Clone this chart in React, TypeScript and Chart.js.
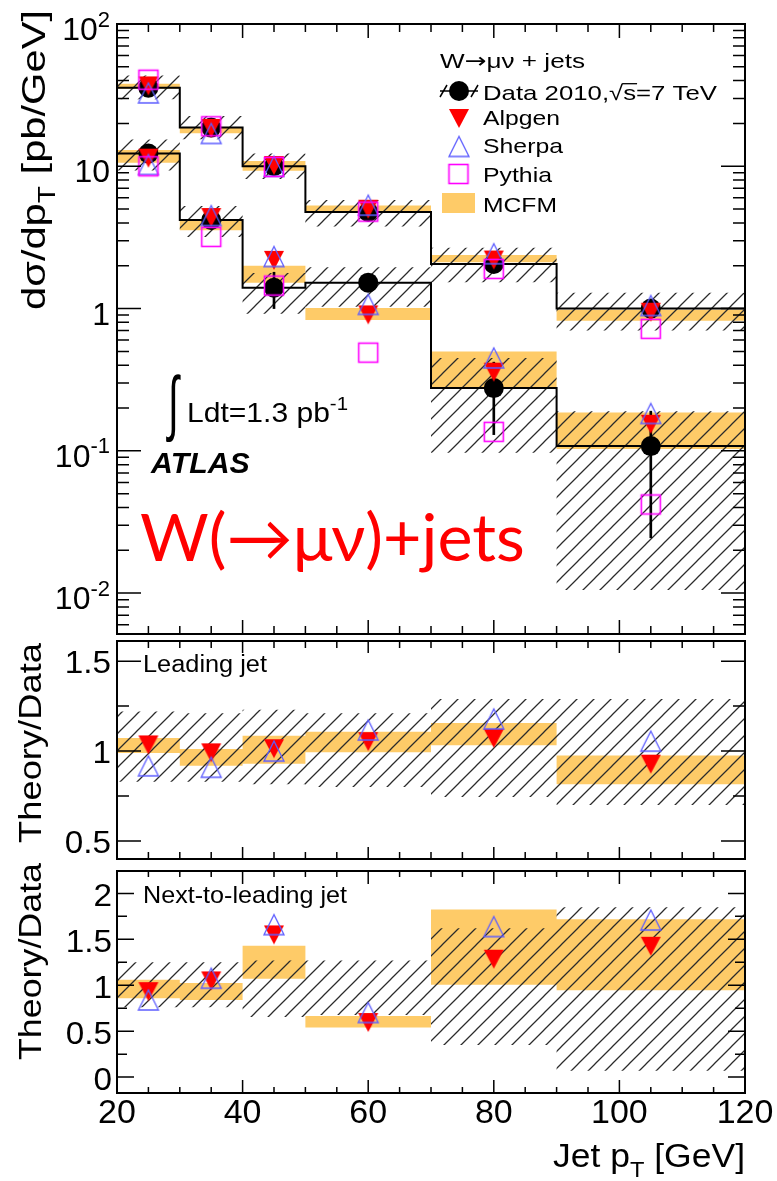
import React, { useEffect, useRef } from "react";
import { Chart, registerables } from "chart.js";

Chart.register(...registerables);

// ---------------- data ----------------
const binEdges = [20, 30, 40, 50, 70, 90, 120];
const binCenters = [25, 35, 45, 60, 80, 105];

// leading jet, dσ/dpT [pb/GeV]
const leadData = [35.7, 18.7, 10.0, 4.77, 2.06, 1.0];
const leadDataErrLow = [34.8, 18.2, 9.7, 4.6, 1.96, 0.9];
const leadDataErrHigh = [36.6, 19.2, 10.3, 4.95, 2.16, 1.1];
const leadAlpgen = [37.0, 18.6, 10.2, 5.03, 2.21, 0.95];
const leadSherpa = [32.8, 17.0, 10.0, 5.33, 2.43, 1.05];
const leadPythia = [40.6, 19.1, 9.9, 4.8, 1.9, 0.72];
const leadMcfmLow = [35.0, 17.1, 9.3, 4.74, 2.12, 0.82];
const leadMcfmHigh = [38.0, 18.9, 10.9, 5.3, 2.38, 0.98];
const leadSystLow = [29.6, 15.5, 8.15, 3.77, 1.53, 0.7];
const leadSystHigh = [43.5, 22.6, 12.3, 5.8, 2.67, 1.29];

// next-to-leading jet
const secData = [12.3, 4.19, 1.4, 1.52, 0.276, 0.108];
const secDataErrLow = [11.9, 3.9, 1.0, 1.36, 0.13, 0.0245];
const secDataErrHigh = [12.7, 4.5, 1.8, 1.68, 0.42, 0.19];
const secAlpgen = [11.5, 4.4, 2.2, 0.91, 0.36, 0.155];
const secSherpa = [10.3, 4.5, 2.32, 1.07, 0.45, 0.183];
const secPythia = [10.0, 3.19, 1.45, 0.49, 0.136, 0.042];
const secMcfmLow = [10.6, 3.55, 1.52, 0.83, 0.278, 0.103];
const secMcfmHigh = [13.0, 4.25, 2.0, 1.01, 0.5, 0.186];
const secSystLow = [9.35, 3.18, 0.92, 1.03, 0.097, 0.0105];
const secSystHigh = [15.4, 5.25, 1.78, 1.95, 0.45, 0.19];

// Theory/Data, leading jet
const leadRatioAlpgen = [1.037, 0.993, 1.016, 1.055, 1.073, 0.93];
const leadRatioSherpa = [0.918, 0.91, 1.0, 1.117, 1.179, 1.055];
const leadRatioMcfmLow = [0.99, 0.918, 0.93, 0.993, 1.032, 0.815];
const leadRatioMcfmHigh = [1.073, 1.011, 1.085, 1.108, 1.156, 0.975];
const leadRatioSystLow = [0.83, 0.83, 0.815, 0.8, 0.745, 0.7];
const leadRatioSystHigh = [1.22, 1.21, 1.23, 1.21, 1.29, 1.29];

// Theory/Data, next-to-leading jet
const secRatioAlpgen = [0.936, 1.053, 1.554, 0.6, 1.289, 1.43];
const secRatioSherpa = [0.84, 1.077, 1.66, 0.703, 1.639, 1.71];
const secRatioMcfmLow = [0.858, 0.84, 1.07, 0.54, 1.006, 0.947];
const secRatioMcfmHigh = [1.06, 1.024, 1.43, 0.664, 1.826, 1.72];
const secRatioSystLow = [0.76, 0.76, 0.654, 0.675, 0.35, 0.07];
const secRatioSystHigh = [1.25, 1.25, 1.27, 1.27, 1.62, 1.85];

// ticks
const xMajorTicks = [20, 40, 60, 80, 100, 120];
const xMinorTicks = [25, 30, 35, 45, 50, 55, 65, 70, 75, 85, 90, 95, 105, 110, 115];
const xTickLabels = ["20", "40", "60", "80", "100", "120"];
const topYMajorTicks = [100, 10, 1, 0.1, 0.01];
const topYTickBase = ["10", "10", "1", "10", "10"];
const topYTickExp = ["2", "", "", "-1", "-2"];
const topYMinorTicks = [
  0.006, 0.007, 0.008, 0.009,
  0.02, 0.03, 0.04, 0.05, 0.06, 0.07, 0.08, 0.09,
  0.2, 0.3, 0.4, 0.5, 0.6, 0.7, 0.8, 0.9,
  2, 3, 4, 5, 6, 7, 8, 9,
  20, 30, 40, 50, 60, 70, 80, 90,
];
const midYMajorTicks = [1.5, 1, 0.5];
const midYTickLabels = ["1.5", "1", "0.5"];
const midYMinorTicks = [1.25, 0.75];
const botYMajorTicks = [2, 1.5, 1, 0.5, 0];
const botYTickLabels = ["2", "1.5", "1", "0.5", "0"];
const botYMinorTicks = [1.75, 1.25, 0.75, 0.25];

const legendTitleParts = ["W", "\u2192", "\u03bc\u03bd + jets"];
const legendLabels = ["Data 2010,\u221as=7 TeV", "Alpgen", "Sherpa", "Pythia", "MCFM"];

// ---------------- styles ----------------
const FONT = '"Liberation Sans", Arial, Helvetica, sans-serif';
const ORANGE = "rgb(254,203,104)";
const RED = "#ff0000";
const BLUE = "#5d5dff";
const MAGENTA = "#ff00ff";
const HATCH_INK = "#2b2b2b";

type Run = { t: string; sup?: boolean; sub?: boolean; family?: string };

function drawRich(ctx: CanvasRenderingContext2D, runs: Run[], x: number, y: number, o: any): number {
  const fnt = (r: Run) =>
    [o.style, o.weight, `${r.sup || r.sub ? Math.round(o.size * 0.68) : o.size}px`, r.family || o.family || FONT]
      .filter(Boolean)
      .join(" ");
  ctx.save();
  const ws = runs.map((r) => {
    ctx.font = fnt(r);
    return ctx.measureText(r.t).width;
  });
  const total = ws.reduce((a, b) => a + b, 0);
  const sx = o.width ? o.width / total : o.sx || 1;
  ctx.translate(x, y);
  if (o.rot) ctx.rotate(o.rot);
  ctx.scale(sx, 1);
  let cx = o.align === "right" ? -total : o.align === "center" ? -total / 2 : 0;
  ctx.fillStyle = o.color || "#000";
  ctx.textAlign = "left";
  ctx.textBaseline = "alphabetic";
  runs.forEach((r, i) => {
    ctx.font = fnt(r);
    const dy = r.sup ? -0.42 * o.size : r.sub ? 0.3 * o.size : 0;
    ctx.fillText(r.t, cx, dy);
    cx += ws[i];
  });
  ctx.restore();
  return sx;
}

function drawFitBox(ctx: CanvasRenderingContext2D, text: string, font: string, color: string, x0: number, y0: number, x1: number, y1: number) {
  ctx.save();
  ctx.font = font;
  ctx.textAlign = "left";
  ctx.textBaseline = "alphabetic";
  const m = ctx.measureText(text);
  const w = m.actualBoundingBoxLeft + m.actualBoundingBoxRight;
  const h = m.actualBoundingBoxAscent + m.actualBoundingBoxDescent;
  ctx.translate(x0, y0);
  ctx.scale((x1 - x0) / w, (y1 - y0) / h);
  ctx.fillStyle = color;
  ctx.fillText(text, m.actualBoundingBoxLeft, m.actualBoundingBoxAscent);
  ctx.restore();
}

function makeTile(w: number, h: number, draw: (g: CanvasRenderingContext2D) => void) {
  const c = document.createElement("canvas");
  c.width = w;
  c.height = h;
  draw(c.getContext("2d")!);
  return c;
}

function makeMarkers() {
  const triDown = makeTile(22, 22, (g) => {
    g.fillStyle = RED;
    g.beginPath();
    g.moveTo(1, 2);
    g.lineTo(21, 2);
    g.lineTo(11, 21);
    g.closePath();
    g.fill();
  });
  const triUp = makeTile(24, 24, (g) => {
    g.strokeStyle = BLUE;
    g.lineWidth = 1.3;
    g.beginPath();
    g.moveTo(2, 22);
    g.lineTo(22, 22);
    g.lineTo(12, 2);
    g.closePath();
    g.stroke();
  });
  const square = makeTile(24, 24, (g) => {
    g.strokeStyle = MAGENTA;
    g.lineWidth = 1.6;
    g.strokeRect(2.5, 2.5, 19, 19);
  });
  return { triDown, triUp, square };
}

function makeHatch(ctx: CanvasRenderingContext2D): CanvasPattern {
  const s = 17;
  const tile = makeTile(s, s, (g) => {
    g.strokeStyle = HATCH_INK;
    g.lineWidth = 1.25;
    g.beginPath();
    g.moveTo(0, s);
    g.lineTo(s, 0);
    g.moveTo(-2, 2);
    g.lineTo(2, -2);
    g.moveTo(s - 2, s + 2);
    g.lineTo(s + 2, s - 2);
    g.stroke();
  });
  return ctx.createPattern(tile, "repeat")!;
}

const hist = (vals: number[]) => {
  const out: { x: number; y: number }[] = [];
  vals.forEach((v, i) => {
    out.push({ x: binEdges[i], y: v });
    out.push({ x: binEdges[i + 1], y: v });
  });
  return out;
};
const pts = (vals: number[]) => binCenters.map((x, i) => ({ x, y: vals[i] }));
const errs = (lo: number[], hi: number[]) => binCenters.map((x, i) => ({ x, y: [lo[i], hi[i]] }));

function band(lo: number[], hi: number[], fill: any, order: number) {
  return [
    { type: "line", data: hist(hi), borderColor: "transparent", borderWidth: 0, pointRadius: 0, fill: "+1", backgroundColor: fill, order },
    { type: "line", data: hist(lo), borderColor: "transparent", borderWidth: 0, pointRadius: 0, fill: false, order },
  ];
}
const histLine = (vals: number[], order: number) => ({
  type: "line", data: hist(vals), borderColor: "#000", borderWidth: 2, pointRadius: 0, fill: false, order,
});
const markers = (vals: number[], style: any, order: number) => ({
  type: "line", data: pts(vals), showLine: false, pointStyle: style, pointRadius: 10, order,
});
const dataMarkers = (vals: number[], order: number) => ({
  type: "line", data: pts(vals), showLine: false, pointStyle: "circle", pointRadius: 10,
  pointBackgroundColor: "#000", pointBorderColor: "#000", pointBorderWidth: 0, order,
});
const errBars = (lo: number[], hi: number[], order: number) => ({
  type: "bar", data: errs(lo, hi), backgroundColor: "#000", borderWidth: 0, barThickness: 2, grouped: false, order,
});

interface PanelSpec {
  top: number;
  yMajors: number[];
  yMinors: number[];
  yMaj: number;
  yMin: number;
  xMaj: number;
  xMin: number;
  decorate: (ctx: CanvasRenderingContext2D, P: (v: number) => number, X: (v: number) => number) => void;
}

function frame(chart: any, spec: PanelSpec) {
  const { ctx, chartArea: a } = chart;
  const xs = chart.scales.x;
  const ys = chart.scales.y;
  ctx.save();
  ctx.strokeStyle = "#000";
  ctx.lineWidth = 1.5;
  ctx.beginPath();
  const xt = (vals: number[], len: number) =>
    vals.forEach((v) => {
      const p = xs.getPixelForValue(v);
      ctx.moveTo(p, a.top);
      ctx.lineTo(p, a.top + len);
      ctx.moveTo(p, a.bottom);
      ctx.lineTo(p, a.bottom - len);
    });
  const yt = (vals: number[], len: number) =>
    vals.forEach((v) => {
      const p = ys.getPixelForValue(v);
      ctx.moveTo(a.left, p);
      ctx.lineTo(a.left + len, p);
      ctx.moveTo(a.right, p);
      ctx.lineTo(a.right - len, p);
    });
  xt(xMajorTicks, spec.xMaj);
  xt(xMinorTicks, spec.xMin);
  yt(spec.yMajors, spec.yMaj);
  yt(spec.yMinors, spec.yMin);
  ctx.stroke();
  ctx.lineWidth = 2;
  ctx.strokeRect(a.left, a.top, a.right - a.left, a.bottom - a.top);
  ctx.restore();
}

function buildChart(canvas: HTMLCanvasElement, spec: PanelSpec, datasets: any[], yScale: any, padding: any) {
  const plugin = {
    id: "atlasPanel",
    afterDatasetsDraw(chart: any) {
      frame(chart, spec);
    },
    afterDraw(chart: any) {
      const ctx = chart.ctx;
      ctx.save();
      ctx.translate(0, -spec.top);
      spec.decorate(
        ctx,
        (v) => chart.scales.y.getPixelForValue(v) + spec.top,
        (v) => chart.scales.x.getPixelForValue(v)
      );
      ctx.restore();
    },
  };
  return new Chart(canvas, {
    type: "line",
    data: { datasets },
    options: {
      responsive: false,
      animation: false,
      devicePixelRatio: 1,
      events: [],
      layout: { padding },
      plugins: { legend: { display: false }, tooltip: { enabled: false }, title: { display: false } },
      scales: {
        x: { type: "linear", min: 20, max: 120, display: false, offset: false },
        y: { ...yScale, display: false, beginAtZero: false },
      },
    } as any,
    plugins: [plugin],
  } as any);
}

export default function App() {
  const refA = useRef<HTMLCanvasElement>(null);
  const refB = useRef<HTMLCanvasElement>(null);
  const refC = useRef<HTMLCanvasElement>(null);

  useEffect(() => {
    const mk = makeMarkers();
    const charts: Chart[] = [];

    // ---- top panel ----
    const cA = refA.current!;
    const hatchA = makeHatch(cA.getContext("2d")!);
    const topSpec: PanelSpec = {
      top: 0, yMajors: topYMajorTicks, yMinors: topYMinorTicks, yMaj: 24, yMin: 12, xMaj: 14, xMin: 8,
      decorate: (ctx, P) => {
        topYMajorTicks.forEach((v, i) => {
          const runs: Run[] = [{ t: topYTickBase[i] }];
          if (topYTickExp[i]) runs.push({ t: topYTickExp[i], sup: true });
          drawRich(ctx, runs, 110, P(v) + 16, { size: 32, align: "right" });
        });
        drawRich(ctx, [{ t: "d\u03c3/dp" }, { t: "T", sub: true }, { t: " [pb/GeV]" }], 45, 310, {
          size: 34, rot: -Math.PI / 2, width: 300,
        });
        // legend
        drawRich(
          ctx,
          [
            { t: legendTitleParts[0] },
            { t: legendTitleParts[1], family: '"DejaVu Sans", sans-serif' },
            { t: legendTitleParts[2] },
          ],
          440, 68, { size: 21, width: 145 }
        );
        ctx.save();
        ctx.strokeStyle = "#000";
        ctx.lineWidth = 1.5;
        ctx.beginPath();
        ctx.moveTo(440, 91); ctx.lineTo(478, 91);
        ctx.moveTo(440, 97); ctx.lineTo(447, 85);
        ctx.moveTo(471, 97); ctx.lineTo(478, 85);
        ctx.stroke();
        ctx.fillStyle = "#000";
        ctx.beginPath();
        ctx.arc(459, 91, 10, 0, Math.PI * 2);
        ctx.fill();
        ctx.restore();
        const sx = drawRich(ctx, [{ t: legendLabels[0] }], 483, 100, { size: 21, width: 234 });
        ctx.save();
        ctx.font = `21px ${FONT}`;
        const a0 = 483 + ctx.measureText("Data 2010,\u221a").width * sx;
        const a1 = 483 + ctx.measureText("Data 2010,\u221as").width * sx;
        const topY = 100 - ctx.measureText("\u221a").actualBoundingBoxAscent + 0.7;
        ctx.strokeStyle = "#000";
        ctx.lineWidth = 1.3;
        ctx.beginPath();
        ctx.moveTo(a0 - 1, topY);
        ctx.lineTo(a1 + 1, topY);
        ctx.stroke();
        ctx.restore();
        ctx.drawImage(mk.triDown, 459 - 11, 118 - 11);
        drawRich(ctx, [{ t: legendLabels[1] }], 483, 125, { size: 21, width: 77 });
        ctx.drawImage(mk.triUp, 459 - 12, 146.5 - 12);
        drawRich(ctx, [{ t: legendLabels[2] }], 483, 153, { size: 21, width: 80 });
        ctx.drawImage(mk.square, 458.5 - 12, 174 - 12);
        drawRich(ctx, [{ t: legendLabels[3] }], 483, 182, { size: 21, width: 69 });
        ctx.fillStyle = ORANGE;
        ctx.fillRect(442, 193, 33, 20);
        drawRich(ctx, [{ t: legendLabels[4] }], 483, 212, { size: 21, width: 74 });
        // annotations
        drawFitBox(ctx, "\u222b", `60px ${FONT}`, "#000", 166, 373, 181, 442);
        drawRich(ctx, [{ t: "Ldt=1.3 pb" }, { t: "-1", sup: true }], 187, 422, { size: 28, width: 161 });
        drawFitBox(ctx, "ATLAS", `italic bold 28px ${FONT}`, "#000", 150, 453, 250, 473);
        drawFitBox(ctx, "W(\u2192\u03bc\u03bd)+jets", `64px Lato, "Noto Sans", "DejaVu Sans", sans-serif`, RED, 140, 510, 523, 573);
      },
    };
    charts.push(
      buildChart(
        cA,
        topSpec,
        [
          ...band(leadMcfmLow, leadMcfmHigh, ORANGE, 20),
          ...band(secMcfmLow, secMcfmHigh, ORANGE, 20),
          ...band(leadSystLow, leadSystHigh, hatchA, 15),
          ...band(secSystLow, secSystHigh, hatchA, 15),
          histLine(leadData, 10),
          histLine(secData, 10),
          errBars(leadDataErrLow, leadDataErrHigh, 8),
          errBars(secDataErrLow, secDataErrHigh, 8),
          dataMarkers(leadData, 6),
          dataMarkers(secData, 6),
          markers(leadAlpgen, mk.triDown, 5),
          markers(secAlpgen, mk.triDown, 5),
          markers(leadSherpa, mk.triUp, 4),
          markers(secSherpa, mk.triUp, 4),
          markers(leadPythia, mk.square, 3),
          markers(secPythia, mk.square, 3),
        ],
        { type: "logarithmic", min: 0.00516, max: 100 },
        { left: 117, right: 32, top: 24, bottom: 8 }
      )
    );

    // ---- middle panel ----
    const cB = refB.current!;
    const hatchB = makeHatch(cB.getContext("2d")!);
    const midSpec: PanelSpec = {
      top: 630, yMajors: midYMajorTicks, yMinors: midYMinorTicks, yMaj: 24, yMin: 12, xMaj: 12, xMin: 7,
      decorate: (ctx, P) => {
        midYMajorTicks.forEach((v, i) => drawRich(ctx, [{ t: midYTickLabels[i] }], 111, P(v) + 12, { size: 32, align: "right", sx: 1.04 }));
        drawRich(ctx, [{ t: "Theory/Data" }], 41, 843, { size: 32, rot: -Math.PI / 2, width: 200 });
        drawRich(ctx, [{ t: "Leading jet" }], 143, 672, { size: 23, width: 124 });
      },
    };
    charts.push(
      buildChart(
        cB,
        midSpec,
        [
          ...band(leadRatioMcfmLow, leadRatioMcfmHigh, ORANGE, 20),
          ...band(leadRatioSystLow, leadRatioSystHigh, hatchB, 15),
          markers(leadRatioAlpgen, mk.triDown, 5),
          markers(leadRatioSherpa, mk.triUp, 4),
        ],
        { type: "linear", min: 0.4, max: 1.612 },
        { left: 117, right: 32, top: 7, bottom: 5 }
      )
    );

    // ---- bottom panel ----
    const cC = refC.current!;
    const hatchC = makeHatch(cC.getContext("2d")!);
    const botSpec: PanelSpec = {
      top: 860, yMajors: botYMajorTicks, yMinors: botYMinorTicks, yMaj: 17, yMin: 10, xMaj: 13, xMin: 6,
      decorate: (ctx, P, X) => {
        botYMajorTicks.forEach((v, i) => drawRich(ctx, [{ t: botYTickLabels[i] }], 112, P(v) + 13, { size: 32, align: "right", sx: 1.04 }));
        xMajorTicks.forEach((v, i) => drawRich(ctx, [{ t: xTickLabels[i] }], X(v), 1123, { size: 33, align: "center", sx: 1.03 }));
        drawRich(ctx, [{ t: "Jet p" }, { t: "T", sub: true }, { t: " [GeV]" }], 745, 1167, { size: 33, width: 192, align: "right" });
        drawRich(ctx, [{ t: "Theory/Data" }], 41, 1060, { size: 32, rot: -Math.PI / 2, width: 197 });
        drawRich(ctx, [{ t: "Next-to-leading jet" }], 143, 903, { size: 24, width: 204 });
      },
    };
    charts.push(
      buildChart(
        cC,
        botSpec,
        [
          ...band(secRatioMcfmLow, secRatioMcfmHigh, ORANGE, 20),
          ...band(secRatioSystLow, secRatioSystHigh, hatchC, 15),
          markers(secRatioAlpgen, mk.triDown, 5),
          markers(secRatioSherpa, mk.triUp, 4),
        ],
        { type: "linear", min: -0.173, max: 2.244 },
        { left: 117, right: 32, top: 5, bottom: 88 }
      )
    );

    return () => charts.forEach((c) => c.destroy());
  }, []);

  return (
    <div style={{ position: "absolute", left: 0, top: 0, width: 777, height: 1181, background: "#fff", overflow: "hidden" }}>
      <canvas ref={refA} width={777} height={645} style={{ position: "absolute", left: 0, top: 0 }} />
      <canvas ref={refB} width={777} height={240} style={{ position: "absolute", left: 0, top: 630 }} />
      <canvas ref={refC} width={777} height={321} style={{ position: "absolute", left: 0, top: 860 }} />
    </div>
  );
}
